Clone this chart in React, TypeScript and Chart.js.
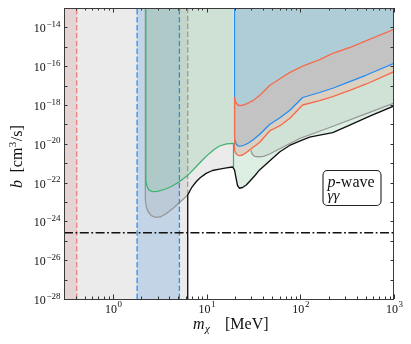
import React, { useEffect, useRef } from "react";
import { Chart, registerables } from "chart.js";
Chart.register(...registerables);

// ---------- axis ranges & ticks ----------
const X_MIN = 0.3;
const X_MAX = 1000;
const Y_MIN = 1e-28;
const Y_MAX = 1e-13;
const xTickExponents = [0, 1, 2, 3];
const yTickExponents = [-28, -26, -24, -22, -20, -18, -16, -14];

// ---------- vertical bounds & horizontal limit ----------
const redBandEdge = 0.41;
const blueBandEdges = [1.81, 5.12];
const grayEdgeMass = 6.279;
const grayEdgeB = 2.3e-23;
const thresholdMass = 19.83;
const horizontalLimit = 2.6e-25;

// ---------- curves ----------
const greenMass = [2.243, 2.243, 2.299, 2.415, 2.633, 2.977, 3.538, 4.203, 5.118, 6.233, 7.722, 9.243, 10.71, 12.12, 13.71, 16.28, 19.35, 19.35];
const greenB = [1e-13, 1.36e-22, 6.7e-23, 4.2e-23, 3.4e-23, 3.5e-23, 4.4e-23, 6.3e-23, 1.11e-22, 2.3e-22, 6.6e-22, 1.64e-21, 3.2e-21, 5.2e-21, 7.7e-21, 9.8e-21, 1.06e-20, 6.4e-22];

const grayLeftMass = [2.216, 2.216, 2.271, 2.386, 2.568, 2.835, 3.206, 3.716, 4.415, 5.118, 5.647, 6.279];
const grayLeftB = [1e-13, 1.27e-23, 5.5e-24, 3.05e-24, 2.0e-24, 1.63e-24, 1.69e-24, 2.55e-24, 4.9e-24, 9.4e-24, 1.43e-23, 2.3e-23];

const grayRightMass = [29.78, 30.52, 32.45, 35.81, 40.51, 46.96, 98.29, 205.8, 452.4, 1000];
const grayRightB = [4.5e-21, 2.98e-21, 2.27e-21, 2.09e-21, 2.27e-21, 2.98e-21, 1.87e-20, 6.9e-20, 2.9e-19, 1.27e-18];

const blackMass = [6.279, 6.279, 6.877, 7.722, 8.585, 9.879, 11.53, 13.71, 16.28, 18.88, 19.83, 20.58, 21.35, 22.43, 24.15, 26.46, 28.7, 32.45, 36.71, 46.96, 60.07, 76.85, 98.29, 125.8, 160.9, 221.6, 336.8, 551, 1000];
const blackB = [1e-28, 2.3e-23, 5.3e-23, 1.11e-22, 1.83e-22, 3.0e-22, 4.2e-22, 4.9e-22, 5.7e-22, 6.4e-22, 4.5e-22, 1.73e-22, 7.1e-23, 5.1e-23, 5.6e-23, 7.5e-23, 1.14e-22, 2.2e-22, 4.5e-22, 1.3e-21, 3.8e-21, 8.2e-21, 1.39e-20, 2.2e-20, 2.8e-20, 3.8e-20, 9.3e-20, 2.7e-19, 8.9e-19];

const blueMass = [19.83, 19.83, 20.23, 20.83, 21.62, 22.43, 23.56, 25.37, 28.0, 31.12, 36.71, 46.96, 60.07, 76.85, 105.8, 160.9, 221.6, 336.8, 507.9, 1000];
const blueB = [1e-13, 1.99e-20, 1.24e-20, 9.2e-21, 7.9e-21, 7.5e-21, 7.7e-21, 8.7e-21, 1.1e-20, 1.57e-20, 3.0e-20, 9.9e-20, 2.14e-19, 5.2e-19, 2.44e-18, 4.4e-18, 7.3e-18, 1.59e-17, 3.5e-17, 1.41e-16];

const orangeMass = [19.83, 20.23, 20.83, 21.62, 22.43, 24.15, 26.65, 31.12, 36.71, 46.96, 60.07, 76.85, 105.8, 160.9, 221.6, 336.8, 507.9, 1000];
const orangeUpperB = [2.44e-18, 1.61e-18, 1.19e-18, 1.0e-18, 9.4e-19, 9.7e-19, 1.13e-18, 1.67e-18, 3.1e-18, 1.01e-17, 2.2e-17, 4.7e-17, 1.02e-16, 2.2e-16, 4.6e-16, 9.2e-16, 2.06e-15, 8.0e-15];
const orangeLowerB = [4.8e-21, 3.6e-21, 2.9e-21, 2.55e-21, 2.47e-21, 2.65e-21, 3.6e-21, 6.4e-21, 1.17e-20, 4.6e-20, 8.3e-20, 2.0e-19, 1.0e-18, 1.7e-18, 2.7e-18, 5.6e-18, 1.21e-17, 5.2e-17];

// ---------- text ----------
const legendLines = ["p-wave", "γγ"];

const SERIF = '"Liberation Serif", "DejaVu Serif", serif';

type Pt = { x: number; y: number };
const P = (xs: number[], ys: number[]): Pt[] => xs.map((x, i) => ({ x, y: ys[i] }));

const C_GRAY_LIGHT = "rgb(235,235,235)";
const C_RED_BAND = "rgb(229,212,212)";
const C_BLUE_FILL = "rgba(100,160,220,0.3)";
const C_GRAY_FILL = "rgba(164,164,164,0.21)";
const C_GREEN_FILL = "rgba(142,198,158,0.3)";
const C_ORANGE_FILL = "rgba(245,172,150,0.3)";

const C_GREEN = "rgb(60,179,113)";
const C_GRAY = "rgb(150,150,150)";
const C_BLUE = "rgb(35,140,245)";
const C_ORANGE = "rgb(245,108,78)";
const C_RED = "rgb(235,125,125)";
const C_BLACK = "#111";

function buildDatasets() {
  const black = P(blackMass, blackB);
  const green = P(greenMass, greenB);
  const greenLast = green[green.length - 1];
  const exclusion: Pt[] = [{ x: X_MIN, y: Y_MIN }, ...black.filter((p) => p.x < greenLast.x), greenLast];
  const greenRight: Pt[] = [greenLast, ...black.filter((p) => p.x > greenLast.x)];
  const lowerOrange = P(orangeMass, orangeLowerB);
  const grayRight = P(grayRightMass, grayRightB);
  const grayRightFill: Pt[] = [...lowerOrange.filter((p) => p.x < grayRightMass[0]), ...grayRight];

  const layers: any[] = [];
  const fillDs = (data: Pt[], color: string, fill: any) => ({
    data, fill, backgroundColor: color, borderColor: "rgba(0,0,0,0)", borderWidth: 0, pointRadius: 0,
  });
  const lineDs = (data: Pt[], color: string, width = 1.25, dash: number[] = []) => ({
    data, fill: false, borderColor: color, borderWidth: width, borderDash: dash, pointRadius: 0,
    borderCapStyle: "butt", borderJoinStyle: "round",
  });

  // bottom -> top
  layers.push(fillDs(exclusion, C_GRAY_LIGHT, "end"));
  layers.push(fillDs([{ x: X_MIN, y: Y_MAX }, { x: redBandEdge, y: Y_MAX }], C_RED_BAND, "start"));
  layers.push(fillDs([{ x: blueBandEdges[0], y: Y_MAX }, { x: blueBandEdges[1], y: Y_MAX }], C_BLUE_FILL, "start"));
  layers.push(fillDs(P(grayLeftMass, grayLeftB), C_GRAY_FILL, "end"));
  layers.push(fillDs(grayRightFill, C_GRAY_FILL, "end"));
  layers.push(fillDs(green, C_GREEN_FILL, "end"));
  layers.push(fillDs(greenRight, C_GREEN_FILL, "end"));
  layers.push(fillDs(P(blueMass, blueB), C_BLUE_FILL, "end"));
  const lowerIdx = layers.length;
  layers.push(fillDs(lowerOrange, "rgba(0,0,0,0)", false));
  layers.push(fillDs(P(orangeMass, orangeUpperB), C_ORANGE_FILL, lowerIdx));

  // strokes
  layers.push(lineDs(P(grayLeftMass, grayLeftB), C_GRAY));
  layers.push(lineDs(grayRight, C_GRAY));
  layers.push(lineDs([{ x: grayEdgeMass, y: grayEdgeB }, { x: grayEdgeMass, y: Y_MAX }], C_GRAY, 1.25, [5.5, 2.4]));
  layers.push(lineDs(green, C_GREEN));
  layers.push(lineDs(P(blueMass, blueB), C_BLUE));
  layers.push(lineDs(P(orangeMass, orangeUpperB), C_ORANGE, 1.35));
  layers.push(lineDs(lowerOrange, C_ORANGE, 1.35));
  layers.push(lineDs([{ x: thresholdMass, y: orangeUpperB[0] }, { x: thresholdMass, y: orangeLowerB[0] }], C_ORANGE, 1.35));
  layers.push(lineDs(black, C_BLACK, 1.35));
  layers.push(lineDs([{ x: redBandEdge, y: Y_MIN }, { x: redBandEdge, y: Y_MAX }], C_RED, 1.25, [5.5, 2.4]));
  layers.push(lineDs([{ x: blueBandEdges[0], y: Y_MIN }, { x: blueBandEdges[0], y: Y_MAX }], C_BLUE, 1.25, [5.5, 2.4]));
  layers.push(lineDs([{ x: blueBandEdges[1], y: Y_MIN }, { x: blueBandEdges[1], y: Y_MAX }], C_BLUE, 1.25, [5.5, 2.4]));
  layers.push(lineDs([{ x: X_MIN, y: horizontalLimit }, { x: X_MAX, y: horizontalLimit }], C_BLACK, 1.4, [9, 2.5, 1.8, 2.5]));

  return layers.map((d, i) => ({ ...d, order: 1000 - i }));
}

function drawPow(ctx: CanvasRenderingContext2D, exp: number, x: number, baseline: number, align: "right" | "center", supRaise: number) {
  const base = "10";
  const sup = exp < 0 ? "\u2212" + Math.abs(exp) : String(exp);
  ctx.font = `12px ${SERIF}`;
  const wb = ctx.measureText(base).width;
  ctx.font = `9px ${SERIF}`;
  const ws = ctx.measureText(sup).width;
  const total = wb + 0.6 + ws;
  const x0 = align === "right" ? x - total : x - total / 2;
  ctx.textAlign = "left";
  ctx.textBaseline = "alphabetic";
  ctx.font = `12px ${SERIF}`;
  ctx.fillText(base, x0, baseline);
  ctx.font = `9px ${SERIF}`;
  ctx.fillText(sup, x0 + wb + 0.6, baseline - supRaise);
}

const decorPlugin = {
  id: "decor",
  afterDraw(chart: any) {
    const { ctx, chartArea: a, scales } = chart;
    const xs = scales.x;
    const ys = scales.y;
    ctx.save();
    ctx.strokeStyle = "#333";
    ctx.lineWidth = 1;
    const seg = (x1: number, y1: number, x2: number, y2: number) => {
      ctx.beginPath();
      ctx.moveTo(x1, y1);
      ctx.lineTo(x2, y2);
      ctx.stroke();
    };
    // y ticks every decade (inward, both sides)
    for (let e = -27; e <= -14; e++) {
      const py = Math.round(ys.getPixelForValue(Math.pow(10, e))) + 0.5;
      seg(a.left, py, a.left + 3.5, py);
      seg(a.right, py, a.right - 3.5, py);
    }
    // x ticks (major + minor), inward, bottom & top
    for (let d = -1; d <= 3; d++) {
      for (let k = 1; k <= 9; k++) {
        const v = k * Math.pow(10, d);
        if (v <= X_MIN * 1.001 || v > X_MAX * 1.001) continue;
        const px = Math.round(xs.getPixelForValue(v)) + 0.5;
        const len = k === 1 ? 4.5 : 2.5;
        seg(px, a.bottom, px, a.bottom - len);
        seg(px, a.top, px, a.top + len);
      }
    }
    // frame
    ctx.strokeStyle = "#3a3a3a";
    ctx.strokeRect(a.left + 0.5, a.top + 0.5, a.right - a.left - 1, a.bottom - a.top);

    // tick labels
    ctx.fillStyle = "#111";
    for (const e of yTickExponents) {
      const py = ys.getPixelForValue(Math.pow(10, e));
      drawPow(ctx, e, a.left - 3.5, py + 5, "right", 5.5);
    }
    for (const e of xTickExponents) {
      const px = xs.getPixelForValue(Math.pow(10, e));
      drawPow(ctx, e, px + 0.5, a.bottom + 13.5, "center", 6);
    }

    // x title: m_chi [MeV]
    const xt = 193;
    const xb = 329;
    ctx.textAlign = "left";
    ctx.textBaseline = "alphabetic";
    ctx.font = `italic 16px ${SERIF}`;
    ctx.fillText("m", xt, xb);
    const wm = ctx.measureText("m").width;
    ctx.font = `italic 11px ${SERIF}`;
    ctx.fillText("χ", xt + wm + 0.5, xb + 3);
    ctx.font = `16px ${SERIF}`;
    ctx.fillText("[MeV]", 225, xb);

    // y title: b [cm^3/s]
    ctx.save();
    ctx.translate(21.5, 0);
    ctx.rotate(-Math.PI / 2);
    ctx.font = `italic 16px ${SERIF}`;
    ctx.fillText("b", -188, 0);
    ctx.font = `16px ${SERIF}`;
    const s1 = "[cm";
    ctx.fillText(s1, -172.5, 0);
    const w1 = ctx.measureText(s1).width;
    ctx.font = `11px ${SERIF}`;
    ctx.fillText("3", -172.5 + w1 + 0.5, -6);
    const w3 = ctx.measureText("3").width;
    ctx.font = `16px ${SERIF}`;
    ctx.fillText("/s]", -172.5 + w1 + w3 + 1, 0);
    ctx.restore();

    // legend box
    const bx = 323, by = 170.5, bw = 58, bh = 35, r = 4.5;
    ctx.beginPath();
    ctx.moveTo(bx + r, by);
    ctx.arcTo(bx + bw, by, bx + bw, by + bh, r);
    ctx.arcTo(bx + bw, by + bh, bx, by + bh, r);
    ctx.arcTo(bx, by + bh, bx, by, r);
    ctx.arcTo(bx, by, bx + bw, by, r);
    ctx.closePath();
    ctx.fillStyle = "#fff";
    ctx.fill();
    ctx.strokeStyle = "#222";
    ctx.lineWidth = 1.1;
    ctx.stroke();
    ctx.fillStyle = "#111";
    ctx.font = `italic 16px ${SERIF}`;
    ctx.fillText(legendLines[0].charAt(0), 327.5, 186.5);
    const wp = ctx.measureText(legendLines[0].charAt(0)).width;
    ctx.font = `16px ${SERIF}`;
    ctx.fillText(legendLines[0].slice(1), 327.5 + wp, 186.5);
    ctx.font = `italic 15px ${SERIF}`;
    ctx.fillText(legendLines[1], 327.5, 199.5);
    ctx.restore();
  },
};

export default function App() {
  const ref = useRef<HTMLCanvasElement>(null);
  useEffect(() => {
    if (!ref.current) return;
    const chart = new Chart(ref.current, {
      type: "line",
      data: { datasets: buildDatasets() as any },
      options: {
        responsive: false,
        animation: false,
        devicePixelRatio: 1,
        events: [],
        layout: { padding: { left: 64, right: 17, top: 8, bottom: 45 } },
        plugins: { legend: { display: false }, tooltip: { enabled: false } },
        elements: { line: { tension: 0 }, point: { radius: 0 } },
        scales: {
          x: { type: "logarithmic", min: X_MIN, max: X_MAX, display: false },
          y: { type: "logarithmic", min: Y_MIN, max: Y_MAX, display: false },
        },
      } as any,
      plugins: [decorPlugin],
    });
    return () => chart.destroy();
  }, []);
  return (
    <div style={{ position: "absolute", left: 0, top: 0, width: 411, height: 344, background: "#fff" }}>
      <canvas ref={ref} width={411} height={344} style={{ display: "block", width: 411, height: 344 }} />
    </div>
  );
}
